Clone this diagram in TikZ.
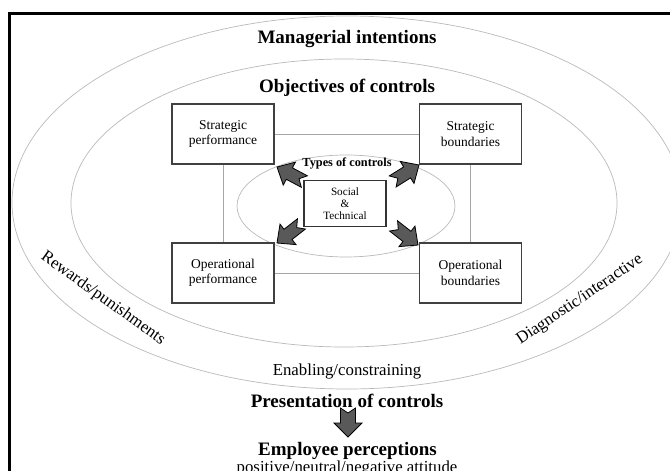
\documentclass[tikz,border=0pt]{standalone}
\usepackage{fontspec}
\setmainfont{Liberation Serif}
\begin{document}
\begin{tikzpicture}[x=1pt,y=-1pt,
  ell/.style={draw=gray!55, line width=0.7pt},
  box/.style={draw=black!75, line width=1.1pt, fill=white, minimum width=102pt, minimum height=60pt, align=center, font=\fontsize{13.5}{15.5}\selectfont, inner sep=0pt},
  link/.style={draw=gray!70, line width=0.7pt},
  head/.style={font=\bfseries\fontsize{19}{22}\selectfont},
  lbl/.style={font=\fontsize{16.8}{19}\selectfont},
  afill/.style={fill=black!65, draw=black, line width=0.8pt, line join=miter},
  diagarrow/.pic={\path[afill] (0,0) -- (-14,13) -- (-14,6.5) -- (-31,6.5) -- (-25,0) -- (-31,-6.5) -- (-14,-6.5) -- (-14,-13) -- cycle;},
  downarrow/.pic={\path[afill] (0,0) -- (-14,14) -- (-14,7.5) -- (-29,7.5) -- (-24,0) -- (-29,-7.5) -- (-14,-7.5) -- (-14,-14) -- cycle;},
]
\useasboundingbox (0,0) rectangle (670,471);
% frame
\draw[line width=3pt] (9.5,13) rectangle (690,490);
% ellipses
\draw[ell] (347,202.5) ellipse [x radius=335, y radius=186.5];
\draw[ell] (344,203) ellipse [x radius=273, y radius=144];
\draw[ell] (346,206) ellipse [x radius=109, y radius=51];
% boxes
\node[box] (sp) at (223,134) {Strategic\\performance};
\node[box] (sb) at (470.5,134) {Strategic\\boundaries};
\node[box] (op) at (223,273) {Operational\\performance};
\node[box] (ob) at (470.5,273) {Operational\\boundaries};
\draw[link] (sp) -- (sb);
\draw[link] (sp) -- (op);
\draw[link] (sb) -- (ob);
\draw[link] (op) -- (ob);
\node[draw=black!80, line width=1.1pt, fill=white, minimum width=82pt, minimum height=46pt, align=center, font=\fontsize{11.2}{12.3}\selectfont, inner sep=0pt] (st) at (345,203.5) {Social\\\&\\Technical};
% texts
\node[head, anchor=base] (mi) at (347,43) {Managerial intentions};
\node[head, anchor=base] (oc) at (347,92) {Objectives of controls};
\node[font=\bfseries\fontsize{12.3}{14}\selectfont, anchor=base] (tc) at (347,166) {Types of controls};
\node[lbl, anchor=base] (ec) at (347,375) {Enabling/constraining};
\node[head, anchor=base] (pc) at (347,407) {Presentation of controls};
\node[head, anchor=base] (ep) at (347.5,455.5) {Employee perceptions};
\node[lbl, anchor=base] (pa) at (347,472) {positive/neutral/negative attitude};
\node[lbl, rotate=-35.5] (rp) at (103,298.5) {Rewards/punishments};
\node[lbl, rotate=34] (di) at (580,300) {Diagnostic/interactive};
% block arrows
\coordinate (tul) at (277,167);
\coordinate (tur) at (419,165);
\coordinate (tll) at (277,243);
\coordinate (tlr) at (418,245);
\coordinate (tdn) at (348,437);
\pic[rotate=152] at (tul) {diagarrow};
\pic[rotate=32] at (tur) {diagarrow};
\pic[rotate=218] at (tll) {diagarrow};
\pic[rotate=322] at (tlr) {diagarrow};
\pic[rotate=-90] at (tdn) {downarrow};
\end{tikzpicture}
\end{document}
